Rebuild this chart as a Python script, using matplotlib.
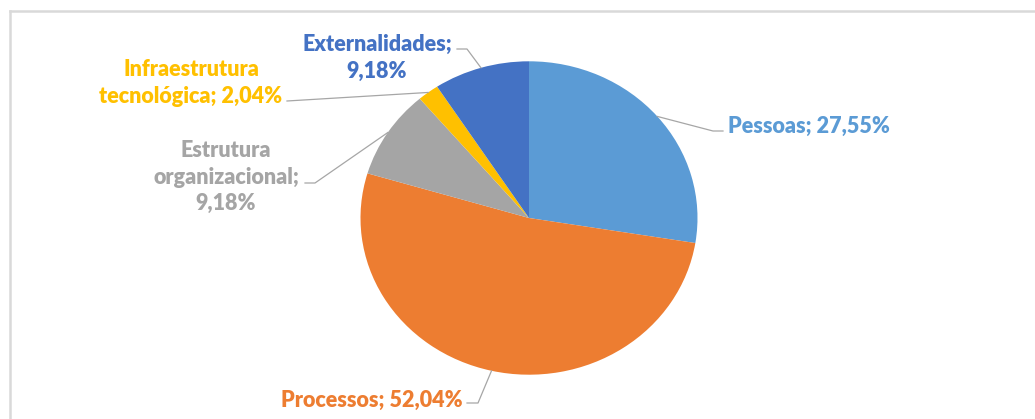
import matplotlib.pyplot as plt
import numpy as np

labels = ["Pessoas", "Processos", "Estrutura organizacional",
          "Infraestrutura tecnológica", "Externalidades"]
values = [27.55, 52.04, 9.18, 2.04, 9.18]
colors = ["#5B9BD5", "#ED7D31", "#A5A5A5", "#FFC000", "#4472C4"]
label_text = ["Pessoas; 27,55%", "Processos; 52,04%",
              "Estrutura\norganizacional;\n9,18%",
              "Infraestrutura\ntecnológica; 2,04%",
              "Externalidades;\n9,18%"]

W, H = 1035, 419
cx, cy = 529, 218          # pie centre, pixels from top-left
rx, ry = 168.5, 156.7      # pie is slightly stretched in the source

# label anchors (pixels) and leader line elbows (pixels)
label_pos = [(728, 126, "left"), (463, 400, "right"), (226, 177, "center"),
             (191, 83, "center"), (377, 58, "center")]
elbows = [[(713, 131), (723, 131)],
          [(478, 403), (467, 403)],
          [(315, 183), (305, 183)],
          [(287, 101), (287, 101)],
          [(467, 49), (457, 49)]]

fig = plt.figure(figsize=(W / 100, H / 100), dpi=100)
ax = fig.add_axes([0, 0, 1, 1])
ax.pie(values, colors=colors, startangle=90, counterclock=False,
       wedgeprops=dict(linewidth=0))
ax.set_aspect("auto")
ax.set_xlim(-cx / rx, (W - cx) / rx)
ax.set_ylim(-(H - cy) / ry, cy / ry)


def px(x, y):
    return (x - cx) / rx, (cy - y) / ry


# leader lines from wedge mid-angle on the rim
cum = np.cumsum([0] + values)
for i, v in enumerate(values):
    mid = np.deg2rad(90 - 3.6 * (cum[i] + v / 2))
    pts = [(np.cos(mid), np.sin(mid))] + [px(*p) for p in elbows[i]]
    xs, ys = zip(*pts)
    ax.plot(xs, ys, color="#A6A6A6", lw=0.9, zorder=1)
    lx, ly, ha = label_pos[i]
    ax.text(*px(lx, ly), label_text[i], color=colors[i], ha=ha, va="center",
            fontsize=15.5, fontweight="heavy", family=["Lato", "DejaVu Sans"],
            linespacing=1.33, multialignment="center")

# chart area frame (only top and left visible in source crop)
ax.plot([px(10, 11)[0], px(W + 5, 11)[0]], [px(10, 11)[1]] * 2,
        color="#D9D9D9", lw=1.8, clip_on=False)
ax.plot([px(10, 11)[0]] * 2, [px(10, 11)[1], px(10, H + 5)[1]],
        color="#D9D9D9", lw=1.8, clip_on=False)

fig.savefig("out.png", dpi=100)
